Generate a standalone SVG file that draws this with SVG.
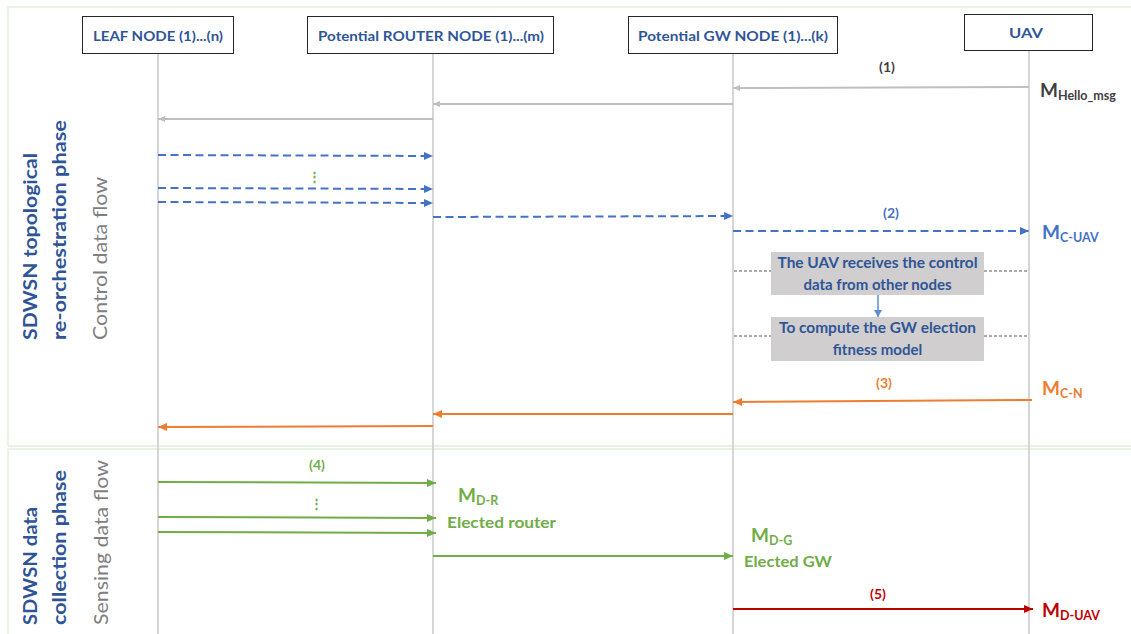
<svg xmlns="http://www.w3.org/2000/svg" width="1131" height="634" viewBox="0 0 1131 634">
<defs>
<style>
.frame{fill:none;stroke:#E2EFDA;stroke-width:1.5}
.box{fill:#fff;stroke:#262626;stroke-width:1}
.hdr{font-family:Lato,"Open Sans",sans-serif;font-weight:bold;font-size:14px;fill:#2F5597;text-anchor:middle}
.life{stroke:#C8C8C8;stroke-width:1.5}
.side{font-family:Lato,"Open Sans",sans-serif;font-weight:bold;font-size:19px;fill:#2F5597}
.flow{font-family:Lato,"Open Sans",sans-serif;font-size:19px;fill:#7F7F7F}
.gray{stroke:#BFBFBF;stroke-width:2;fill:none}
.blue{stroke:#4472C4;stroke-width:2;fill:none;stroke-dasharray:8 4.5}
.orange{stroke:#ED7D31;stroke-width:2;fill:none}
.green{stroke:#70AD47;stroke-width:2;fill:none}
.red{stroke:#C00000;stroke-width:2;fill:none}
.dot{stroke:#595959;stroke-width:1;stroke-dasharray:3 2;fill:none}
.num{font-family:Lato,"Open Sans",sans-serif;font-weight:bold;font-size:14px;text-anchor:middle}
.m{font-family:Lato,"Open Sans",sans-serif;font-weight:bold;font-size:19px}
.sub{font-size:12.5px}
.lbl{font-family:Lato,"Open Sans",sans-serif;font-weight:bold;font-size:15.5px}
.note{fill:#D0CECE}
.notet{font-family:Lato,"Open Sans",sans-serif;font-weight:bold;font-size:15px;fill:#2F5597;text-anchor:middle}
</style>
<marker id="ag" markerUnits="userSpaceOnUse" markerWidth="8" markerHeight="6" refX="7" refY="3" orient="auto"><path d="M0,0 L7,3 L0,6 z" fill="#BFBFBF"/></marker>
<marker id="ab" markerUnits="userSpaceOnUse" markerWidth="10" markerHeight="8" refX="9" refY="4" orient="auto"><path d="M0,0 L9,4 L0,8 z" fill="#4472C4"/></marker>
<marker id="ab2" markerUnits="userSpaceOnUse" markerWidth="8" markerHeight="8" refX="7" refY="4" orient="auto"><path d="M0,0 L7,4 L0,8 z" fill="#5B8BD5"/></marker>
<marker id="ao" markerUnits="userSpaceOnUse" markerWidth="10" markerHeight="8" refX="9" refY="4" orient="auto"><path d="M0,0 L9,4 L0,8 z" fill="#ED7D31"/></marker>
<marker id="agr" markerUnits="userSpaceOnUse" markerWidth="10" markerHeight="8" refX="9" refY="4" orient="auto"><path d="M0,0 L9,4 L0,8 z" fill="#70AD47"/></marker>
<marker id="ar" markerUnits="userSpaceOnUse" markerWidth="10" markerHeight="8" refX="9" refY="4" orient="auto"><path d="M0,0 L9,4 L0,8 z" fill="#C00000"/></marker>
</defs>
<rect width="1131" height="634" fill="#fff"/>
<g id="frame">
<path class="frame" d="M1131,7 H8 V446 H1131"/>
<path class="frame" d="M1131,449 H8 V634"/>
</g>
<g id="phase-labels">
<text class="side" transform="translate(37,340) rotate(-90)" textLength="187" lengthAdjust="spacingAndGlyphs">SDWSN topological</text>
<text class="side" transform="translate(66,340) rotate(-90)" textLength="220" lengthAdjust="spacingAndGlyphs">re-orchestration phase</text>
<text class="flow" transform="translate(107,340) rotate(-90)" textLength="163" lengthAdjust="spacingAndGlyphs">Control data flow</text>
<text class="side" transform="translate(37,625) rotate(-90)" textLength="118" lengthAdjust="spacingAndGlyphs">SDWSN data</text>
<text class="side" transform="translate(66,625) rotate(-90)" textLength="155" lengthAdjust="spacingAndGlyphs">collection phase</text>
<text class="flow" transform="translate(108,625) rotate(-90)" textLength="165" lengthAdjust="spacingAndGlyphs">Sensing data flow</text>
</g>
<g id="leaf">
<line class="life" x1="158" y1="53" x2="158" y2="634"/>
<rect class="box" x="82.5" y="16.5" width="151" height="37"/>
<text class="hdr" x="158" y="41" textLength="130" lengthAdjust="spacingAndGlyphs">LEAF NODE (1)...(n)</text>
</g>
<g id="router">
<line class="life" x1="433" y1="53" x2="433" y2="634"/>
<rect class="box" x="307.5" y="16.5" width="246" height="37"/>
<text class="hdr" x="431" y="41" textLength="226" lengthAdjust="spacingAndGlyphs">Potential ROUTER NODE (1)...(m)</text>
</g>
<g id="gw">
<line class="life" x1="733" y1="53" x2="733" y2="634"/>
<rect class="box" x="628.5" y="16.5" width="209" height="37"/>
<text class="hdr" x="733" y="41" textLength="190" lengthAdjust="spacingAndGlyphs">Potential GW NODE (1)...(k)</text>
</g>
<g id="uav">
<line class="life" x1="1029" y1="51" x2="1029" y2="634"/>
<rect class="box" x="964.5" y="14.5" width="128" height="36"/>
<text class="hdr" x="1026" y="38" textLength="34" lengthAdjust="spacingAndGlyphs">UAV</text>
</g>
<g id="note1">
<rect class="note" x="771" y="252" width="213" height="43"/>
<text class="notet" x="877.5" y="268" textLength="200" lengthAdjust="spacingAndGlyphs">The UAV receives the control</text>
<text class="notet" x="877.5" y="290">data from other nodes</text>
</g>
<g id="note2">
<rect class="note" x="771" y="317" width="213" height="44"/>
<text class="notet" x="877.5" y="333" textLength="197" lengthAdjust="spacingAndGlyphs">To compute the GW election</text>
<text class="notet" x="877.5" y="355">fitness model</text>
</g>
<g id="connectors">
<path class="gray" d="M1029,87 L733,88" marker-end="url(#ag)"/>
<path class="gray" d="M733,104 L433,104" marker-end="url(#ag)"/>
<path class="gray" d="M433,119 L158,119" marker-end="url(#ag)"/>
<path class="blue" d="M158,155 L433,156" marker-end="url(#ab)"/>
<path class="blue" d="M158,188 L433,189" marker-end="url(#ab)"/>
<path class="blue" d="M158,202 L433,203" marker-end="url(#ab)"/>
<path class="blue" d="M433,217 L733,216" marker-end="url(#ab)"/>
<path class="blue" d="M733,231 L1029,231" marker-end="url(#ab)"/>
<path class="dot" d="M734,271 H771 M984,271 H1028"/>
<path class="dot" d="M734,336 H771 M984,336 H1028"/>
<path d="M878,295 V317" stroke="#5B8BD5" stroke-width="1.5" fill="none" marker-end="url(#ab2)"/>
<path class="orange" d="M1032,400 L733,402" marker-end="url(#ao)"/>
<path class="orange" d="M733,414 L433,414" marker-end="url(#ao)"/>
<path class="orange" d="M433,426 L158,427" marker-end="url(#ao)"/>
<path class="green" d="M158,482 L436,483" marker-end="url(#agr)"/>
<path class="green" d="M158,517 L436,518" marker-end="url(#agr)"/>
<path class="green" d="M158,532 L436,533" marker-end="url(#agr)"/>
<path class="green" d="M433,556 L733,556" marker-end="url(#agr)"/>
<path class="red" d="M733,609 L1033,609" marker-end="url(#ar)"/>
</g>
<g id="labels">
<text class="num" x="887" y="72" fill="#404040">(1)</text>
<text class="num" x="891" y="218" fill="#4472C4">(2)</text>
<text class="num" x="884" y="388" fill="#ED7D31">(3)</text>
<text class="num" x="317" y="470" fill="#70AD47" font-size="12.5">(4)</text>
<text class="num" x="878" y="599" fill="#C00000" font-size="12.5">(5)</text>
<text x="314" y="181" font-family="Lato,sans-serif" font-weight="bold" font-size="13" fill="#70AD47" text-anchor="middle">⋮</text>
<text x="316" y="508" font-family="Lato,sans-serif" font-weight="bold" font-size="13" fill="#70AD47" text-anchor="middle">⋮</text>
<text class="m" x="1040" y="97" fill="#404040">M<tspan class="sub" dy="3">Hello_msg</tspan></text>
<text class="m" x="1042" y="239" fill="#4472C4">M<tspan class="sub" dy="3">C-UAV</tspan></text>
<text class="m" x="1042" y="395" fill="#ED7D31">M<tspan class="sub" dy="3">C-N</tspan></text>
<text class="m" x="458" y="502" fill="#70AD47">M<tspan class="sub" dy="3">D-R</tspan></text>
<text class="lbl" x="447" y="528" fill="#70AD47" textLength="109" lengthAdjust="spacingAndGlyphs">Elected router</text>
<text class="m" x="751" y="542" fill="#70AD47">M<tspan class="sub" dy="3">D-G</tspan></text>
<text class="lbl" x="744" y="567" fill="#70AD47" textLength="88" lengthAdjust="spacingAndGlyphs">Elected GW</text>
<text class="m" x="1042" y="617" fill="#C00000">M<tspan class="sub" dy="3">D-UAV</tspan></text>
</g>
</svg>
